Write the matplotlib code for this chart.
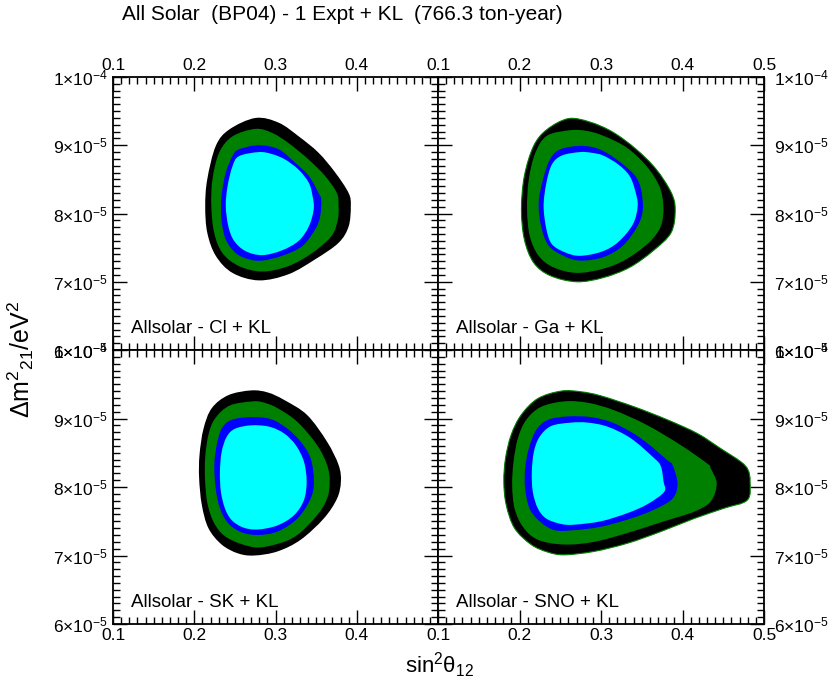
import numpy as np
import matplotlib
matplotlib.use("Agg")
import matplotlib.pyplot as plt
from matplotlib.path import Path
from matplotlib.patches import PathPatch
from matplotlib.ticker import MultipleLocator, FixedLocator, FuncFormatter

plt.rcParams['font.family'] = ['Liberation Sans', 'DejaVu Sans']
plt.rcParams['mathtext.fontset'] = 'custom'
plt.rcParams['mathtext.rm'] = 'Liberation Sans'
plt.rcParams['mathtext.it'] = 'Liberation Sans:italic'
plt.rcParams['mathtext.sf'] = 'Liberation Sans'

# 標題與各子圖文字
title = "All Solar  (BP04) - 1 Expt + KL  (766.3 ton-year)"
panel_labels = ["Allsolar - Cl + KL", "Allsolar - Ga + KL",
                "Allsolar - SK + KL", "Allsolar - SNO + KL"]
levels = ["99.73%", "99%", "95%", "90%"]
level_colors = ["#000000", "#008000", "#0000FF", "#00FFFF"]

# 等高線邊界 (sin^2θ12, Δm^2_21 / 1e-5 eV^2)
cl_black = [(0.2755, 9.40), (0.243, 9.23), (0.2265, 8.99), (0.216, 8.50), (0.2135, 8.11),
            (0.216, 7.72), (0.2265, 7.38), (0.247, 7.13), (0.2796, 7.02), (0.316, 7.11),
            (0.349, 7.33), (0.3776, 7.57), (0.390, 7.81), (0.3927, 8.11), (0.390, 8.30),
            (0.3735, 8.60), (0.353, 8.89), (0.3286, 9.13), (0.304, 9.33)]
cl_green = [(0.2755, 9.24), (0.247, 9.13), (0.2306, 8.89), (0.2224, 8.50), (0.221, 8.11),
            (0.2245, 7.72), (0.2347, 7.42), (0.255, 7.23), (0.2837, 7.15), (0.316, 7.23),
            (0.345, 7.42), (0.369, 7.67), (0.3767, 7.91), (0.3776, 8.11), (0.3755, 8.30),
            (0.361, 8.55), (0.3408, 8.79), (0.3163, 9.03), (0.296, 9.18)]
cl_blue = [(0.2796, 9.00), (0.255, 8.94), (0.247, 8.84), (0.2388, 8.60), (0.2335, 8.25),
           (0.2335, 7.91), (0.2388, 7.62), (0.251, 7.42), (0.267, 7.33), (0.2837, 7.31),
           (0.308, 7.38), (0.3327, 7.52), (0.349, 7.77), (0.355, 7.96), (0.3563, 8.20),
           (0.353, 8.30), (0.341, 8.55), (0.3245, 8.74), (0.304, 8.94)]
cl_cyan = [(0.2796, 8.90), (0.255, 8.84), (0.247, 8.69), (0.241, 8.40), (0.2388, 8.11),
           (0.242, 7.81), (0.249, 7.60), (0.263, 7.45), (0.2837, 7.39), (0.308, 7.46),
           (0.3286, 7.60), (0.341, 7.81), (0.347, 8.06), (0.3457, 8.25), (0.341, 8.45),
           (0.3286, 8.64), (0.312, 8.79), (0.296, 8.87)]

ga_black = [(0.260, 9.39), (0.2337, 9.23), (0.2174, 8.99), (0.206, 8.55), (0.2024, 8.06),
            (0.206, 7.62), (0.2174, 7.28), (0.2377, 7.09), (0.270, 7.00), (0.3026, 7.06),
            (0.335, 7.21), (0.3635, 7.45), (0.386, 7.72), (0.391, 8.06), (0.386, 8.31),
            (0.3675, 8.65), (0.3432, 8.94), (0.3148, 9.19), (0.2864, 9.34)]
ga_green = [(0.262, 9.22), (0.2337, 9.14), (0.2195, 8.89), (0.2114, 8.50), (0.2093, 8.06),
            (0.2126, 7.67), (0.2235, 7.38), (0.2418, 7.21), (0.270, 7.13), (0.3026, 7.19),
            (0.331, 7.33), (0.3594, 7.58), (0.3736, 7.82), (0.3765, 8.11), (0.3716, 8.40),
            (0.3554, 8.70), (0.331, 8.97), (0.3026, 9.14), (0.2824, 9.21)]
ga_blue = [(0.2722, 8.99), (0.250, 8.94), (0.2377, 8.80), (0.2288, 8.50), (0.2235, 8.16),
           (0.2264, 7.82), (0.2357, 7.53), (0.254, 7.38), (0.2742, 7.31), (0.3026, 7.36),
           (0.327, 7.53), (0.345, 7.82), (0.3513, 8.06), (0.349, 8.36), (0.342, 8.55),
           (0.327, 8.72), (0.3067, 8.89), (0.2905, 8.97)]
ga_cyan = [(0.2742, 8.90), (0.252, 8.85), (0.2398, 8.72), (0.233, 8.45), (0.2296, 8.11),
           (0.233, 7.77), (0.2398, 7.55), (0.256, 7.43), (0.2742, 7.38), (0.3006, 7.44),
           (0.321, 7.58), (0.339, 7.84), (0.345, 8.11), (0.342, 8.33), (0.3351, 8.55),
           (0.321, 8.72), (0.3026, 8.85), (0.2884, 8.89)]

sk_black = [(0.270, 9.41), (0.2418, 9.34), (0.2215, 9.15), (0.2114, 8.85), (0.2065, 8.47),
            (0.206, 8.13), (0.2093, 7.74), (0.2174, 7.40), (0.2337, 7.16), (0.254, 7.03),
            (0.2742, 7.00), (0.3026, 7.06), (0.331, 7.23), (0.3594, 7.54), (0.3757, 7.83),
            (0.3805, 8.08), (0.3777, 8.32), (0.3635, 8.66), (0.339, 9.05), (0.3108, 9.27),
            (0.2905, 9.38)]
sk_green = [(0.2722, 9.25), (0.2438, 9.19), (0.2256, 9.00), (0.2174, 8.76), (0.2134, 8.42),
            (0.2134, 8.08), (0.2166, 7.74), (0.2256, 7.45), (0.2418, 7.25), (0.2742, 7.12),
            (0.3026, 7.17), (0.327, 7.30), (0.3513, 7.59), (0.3635, 7.83), (0.3667, 8.08),
            (0.3635, 8.32), (0.3513, 8.61), (0.327, 8.95), (0.3026, 9.15), (0.2864, 9.23)]
sk_blue = [(0.270, 9.02), (0.2458, 8.98), (0.2337, 8.85), (0.2276, 8.61), (0.2247, 8.32),
           (0.2264, 7.98), (0.2316, 7.69), (0.2418, 7.47), (0.258, 7.34), (0.2783, 7.30),
           (0.3026, 7.35), (0.327, 7.54), (0.3432, 7.83), (0.3473, 8.08), (0.3432, 8.42),
           (0.331, 8.66), (0.3148, 8.85), (0.2945, 8.99)]
sk_cyan = [(0.270, 8.90), (0.250, 8.85), (0.2398, 8.73), (0.2337, 8.51), (0.2316, 8.22),
           (0.2328, 7.93), (0.2377, 7.69), (0.2458, 7.52), (0.260, 7.41), (0.2783, 7.38),
           (0.3026, 7.44), (0.323, 7.59), (0.335, 7.81), (0.3383, 8.08), (0.335, 8.37),
           (0.325, 8.61), (0.3108, 8.78), (0.2925, 8.88)]

sno_black = [(0.251, 9.40), (0.2224, 9.29), (0.202, 9.05), (0.1898, 8.76), (0.1829, 8.42),
             (0.1808, 8.08), (0.1837, 7.74), (0.1939, 7.40), (0.2143, 7.16), (0.2347, 7.05),
             (0.2551, 7.01), (0.2918, 7.06), (0.3327, 7.18), (0.3735, 7.35), (0.4143, 7.54),
             (0.451, 7.69), (0.4796, 7.81), (0.4829, 8.08), (0.4804, 8.25), (0.4714, 8.37),
             (0.447, 8.56), (0.4184, 8.78), (0.3816, 8.98), (0.3408, 9.17), (0.300, 9.33),
             (0.2755, 9.39)]
sno_green = [(0.2551, 9.25), (0.2265, 9.17), (0.2082, 8.98), (0.198, 8.71), (0.1927, 8.37),
             (0.191, 8.03), (0.1939, 7.69), (0.2041, 7.42), (0.2224, 7.23), (0.2551, 7.16),
             (0.2918, 7.20), (0.3327, 7.33), (0.3776, 7.50), (0.4143, 7.64), (0.4347, 7.79),
             (0.442, 8.05), (0.4347, 8.27), (0.4306, 8.34), (0.398, 8.61), (0.3571, 8.90),
             (0.3163, 9.12), (0.2837, 9.23)]
sno_blue = [(0.2592, 9.03), (0.2347, 8.98), (0.2204, 8.83), (0.2114, 8.56), (0.2069, 8.27),
            (0.2069, 7.98), (0.2122, 7.69), (0.2245, 7.50), (0.2429, 7.37), (0.2673, 7.37),
            (0.300, 7.42), (0.3367, 7.54), (0.3653, 7.67), (0.3878, 7.83), (0.3939, 8.05),
            (0.3878, 8.32), (0.3816, 8.39), (0.349, 8.71), (0.3163, 8.93), (0.2878, 9.02)]
sno_cyan = [(0.2633, 8.94), (0.2388, 8.89), (0.2245, 8.73), (0.2176, 8.51), (0.2151, 8.22),
            (0.2163, 7.93), (0.2224, 7.69), (0.2327, 7.54), (0.251, 7.46), (0.2673, 7.45),
            (0.300, 7.50), (0.3327, 7.62), (0.3571, 7.75), (0.3776, 7.93), (0.3767, 8.08),
            (0.3735, 8.30), (0.3653, 8.42), (0.3367, 8.71), (0.3082, 8.88), (0.2837, 8.94)]

panel_contours = [
    [cl_black, cl_green, cl_blue, cl_cyan],
    [ga_black, ga_green, ga_blue, ga_cyan],
    [sk_black, sk_green, sk_blue, sk_cyan],
    [sno_black, sno_green, sno_blue, sno_cyan],
]
green_edge = [False, True, False, True]

x_ticks = [0.1, 0.2, 0.3, 0.4, 0.5]
y_ticks = [6e-5, 7e-5, 8e-5, 9e-5, 1e-4]
y_tick_labels = [r"$\mathregular{6{\times}10^{-5}}$", r"$\mathregular{7{\times}10^{-5}}$",
                 r"$\mathregular{8{\times}10^{-5}}$", r"$\mathregular{9{\times}10^{-5}}$",
                 r"$\mathregular{1{\times}10^{-4}}$"]


def smooth_path(xs, ys):
    # 以 Catmull-Rom 轉 Bezier 畫出平滑的封閉邊界（只影響繪製方式）
    P = np.column_stack([xs, ys])
    n = len(P)
    verts = [P[0]]
    codes = [Path.MOVETO]
    for k in range(n):
        p0, p1, p2, p3 = P[k - 1], P[k], P[(k + 1) % n], P[(k + 2) % n]
        c1 = p1 + (p2 - p0) / 6.0
        c2 = p2 - (p3 - p1) / 6.0
        verts += [c1, c2, p2]
        codes += [Path.CURVE4] * 3
    verts.append(P[0])
    codes.append(Path.CLOSEPOLY)
    return Path(verts, codes)


W, H = 830, 692
fig = plt.figure(figsize=(W / 100, H / 100), dpi=100)

x0, xm, x1 = 113, 438, 764
y0, ym, y1 = 77, 350, 624
boxes = [(x0, y0, xm, ym), (xm, y0, x1, ym), (x0, ym, xm, y1), (xm, ym, x1, y1)]

for i, (l, t, r, b) in enumerate(boxes):
    ax = fig.add_axes([l / W, 1 - b / H, (r - l) / W, (b - t) / H])
    for j, pts in enumerate(panel_contours[i]):
        xs = [p[0] for p in pts]
        ys = [p[1] * 1e-5 for p in pts]
        ec = "#008000" if (j == 0 and green_edge[i]) else "none"
        ax.add_patch(PathPatch(smooth_path(xs, ys), fc=level_colors[j], ec=ec, lw=0.8,
                               zorder=2 + j))
    ax.set_xlim(0.1, 0.5)
    ax.set_ylim(6e-5, 1e-4)

    ax.xaxis.set_major_locator(FixedLocator(x_ticks))
    ax.xaxis.set_minor_locator(MultipleLocator(0.01))
    ax.yaxis.set_major_locator(FixedLocator(y_ticks))
    ax.yaxis.set_minor_locator(MultipleLocator(1e-6))
    left = i in (0, 2)
    top = i in (0, 1)
    if left:
        ax.xaxis.set_major_formatter(FuncFormatter(lambda v, p: "" if abs(v - 0.5) < 1e-6 else f"{v:.1f}"))
    else:
        ax.xaxis.set_major_formatter(FuncFormatter(lambda v, p: f"{v:.1f}"))
    ax.set_yticks(y_ticks)
    ax.set_yticklabels(y_tick_labels)

    ax.tick_params(which="both", direction="in", top=True, bottom=True, left=True, right=True,
                   labeltop=top, labelbottom=not top, labelleft=left, labelright=not left,
                   width=1.0, labelsize=12.5)
    ax.tick_params(which="major", length=10)
    ax.tick_params(which="minor", length=5)
    ax.tick_params(axis="x", which="major", pad=3)
    ax.tick_params(axis="y", which="major", pad=4 if left else 7)
    for s in ax.spines.values():
        s.set_linewidth(1.3)
        s.set_zorder(10)

    ax.text(0.056, 0.062, panel_labels[i], transform=ax.transAxes, fontsize=13.5,
            ha="left", va="baseline", zorder=11)

fig.text(342 / W, 1 - 20 / H, title, fontsize=15, ha="center", va="baseline")
fig.text(21 / W, 1 - 359 / H, r"$\mathregular{\Delta m^{2}{}_{21}/eV^{2}}$", fontsize=18,
         rotation=90, ha="center", va="center")
fig.text(440 / W, 1 - 665 / H, r"$\mathregular{sin^2\theta_{12}}$", fontsize=16,
         ha="center", va="center")

plt.savefig("out.png", dpi=100)
plt.close()
